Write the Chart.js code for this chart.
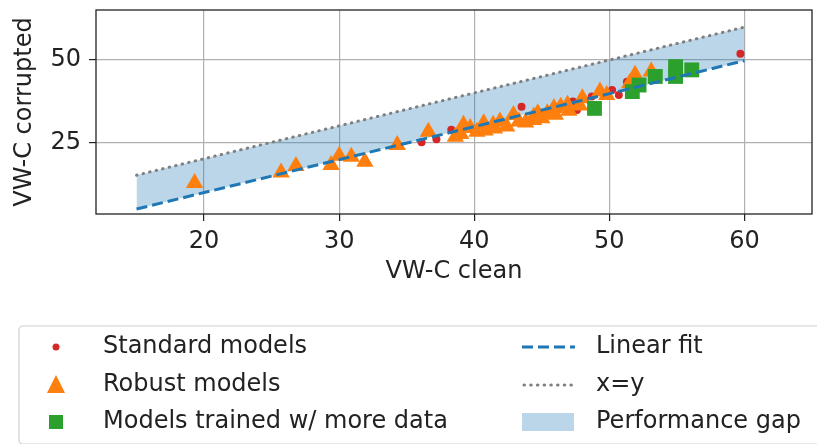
<!DOCTYPE html>
<html>
<head>
<meta charset="utf-8">
<script src="https://cdn.jsdelivr.net/npm/chart.js@4"></script>
<style>
  body { margin: 0; background: #fff; }
  canvas { display: block; }
</style>
</head>
<body>
<canvas id="gapChart" width="817" height="444"></canvas>
<script>
// Standard models
const stdX = [36.1, 37.2, 38.3, 43.5, 47.3, 47.6, 48.7, 50.2, 50.7, 51.3, 59.7];
const stdY = [25.0, 25.9, 28.8, 35.8, 37.4, 34.8, 38.9, 40.9, 39.4, 43.4, 51.9];

// Robust models
const robustX = [19.3, 25.7, 26.8, 29.4, 30.0, 30.9, 31.9, 34.3, 36.6, 38.6, 39.0, 39.2, 39.7, 40.2,
  40.7, 40.8, 41.4, 41.5, 41.9, 42.4, 42.9, 43.3, 43.8, 44.4, 44.4, 44.7, 45.0, 45.4, 45.9, 46.0,
  46.4, 46.9, 47.0, 47.8, 48.0, 49.3, 49.8, 51.5, 51.9, 53.1];
const robustY = [12.6, 15.8, 17.8, 18.1, 20.9, 20.6, 19.1, 24.2, 28.2, 26.7, 27.5, 30.3, 29.3, 28.2,
  30.8, 28.6, 30.3, 29.2, 31.3, 29.8, 33.3, 31.3, 31.0, 32.8, 31.8, 33.8, 32.3, 33.8, 35.4, 33.4,
  35.8, 36.4, 34.6, 36.2, 38.4, 40.4, 39.4, 42.9, 45.5, 46.5];

// Models trained with more data
const moreX = [48.9, 51.7, 52.2, 53.4, 54.9, 54.9, 56.1];
const moreY = [35.3, 40.4, 42.4, 45.0, 48.0, 45.0, 47.0];

// Linear fit and x=y reference
const fitX = [15, 60];
const fitY = [4.7, 49.8];
const diagX = [15, 60];
const diagY = [15, 60];

const xTicks = [20, 30, 40, 50, 60];
const yTicks = [25, 50];

const legendLeft = ["Standard models", "Robust models", "Models trained w/ more data"];
const legendRight = ["Linear fit", "x=y", "Performance gap"];

const FONT = "'DejaVu Sans', sans-serif";
const pts = (xs, ys) => xs.map((x, i) => ({ x: x, y: ys[i] }));

const RED = "#d62728", ORANGE = "#ff7f0e", GREEN = "#2ca02c", BLUE = "#1f77b4", GRAY = "#7f7f7f";
const GAP = "rgba(31, 119, 180, 0.3)";
const FIT_DASH = [11, 5];
const DOT_DASH = [0.5, 6.2];

// frame around plot + legend box underneath
const framePlugin = {
  id: "frame",
  afterDraw(chart) {
    const ctx = chart.ctx;
    const a = chart.chartArea;
    ctx.save();
    ctx.strokeStyle = "#222";
    ctx.lineWidth = 1.3;
    ctx.strokeRect(a.left, a.top, a.right - a.left, a.bottom - a.top);

    // legend box
    ctx.strokeStyle = "#d0d0d0";
    ctx.lineWidth = 1.2;
    ctx.beginPath();
    ctx.roundRect(19, 326, 830, 118, 4);
    ctx.stroke();

    const rows = [347, 385, 422];
    ctx.font = "24px " + FONT;
    ctx.fillStyle = "#222";
    ctx.textBaseline = "middle";
    legendLeft.forEach((t, i) => ctx.fillText(t, 103, rows[i]));
    legendRight.forEach((t, i) => ctx.fillText(t, 596, rows[i]));

    // markers
    ctx.fillStyle = RED;
    ctx.beginPath();
    ctx.arc(56, rows[0], 3.5, 0, Math.PI * 2);
    ctx.fill();

    ctx.fillStyle = ORANGE;
    ctx.beginPath();
    ctx.moveTo(56, rows[1] - 10);
    ctx.lineTo(47, rows[1] + 8);
    ctx.lineTo(65, rows[1] + 8);
    ctx.closePath();
    ctx.fill();

    ctx.fillStyle = GREEN;
    ctx.fillRect(49, rows[2] - 7, 14, 14);

    // line samples
    ctx.lineWidth = 3;
    ctx.strokeStyle = BLUE;
    ctx.setLineDash(FIT_DASH);
    ctx.beginPath();
    ctx.moveTo(522, rows[0]);
    ctx.lineTo(575, rows[0]);
    ctx.stroke();

    ctx.strokeStyle = GRAY;
    ctx.lineCap = "round";
    ctx.setLineDash(DOT_DASH);
    ctx.beginPath();
    ctx.moveTo(524, rows[1]);
    ctx.lineTo(575, rows[1]);
    ctx.stroke();
    ctx.setLineDash([]);

    ctx.fillStyle = GAP;
    ctx.fillRect(522, rows[2] - 9, 52, 18);
    ctx.restore();
  }
};

// scales shouldn't push the plot area in for their edge labels
const noPad = s => {
  s.paddingTop = 0; s.paddingBottom = 0; s.paddingLeft = 0; s.paddingRight = 0;
  s.getPadding = () => ({ left: 0, top: 0, right: 0, bottom: 0 });
};

new Chart(document.getElementById("gapChart"), {
  type: "scatter",
  data: {
    datasets: [
      {
        type: "line",
        label: "Linear fit",
        data: pts(fitX, fitY),
        borderColor: BLUE,
        borderWidth: 3,
        borderDash: FIT_DASH,
        pointRadius: 0,
        fill: "+1",
        backgroundColor: GAP,
        order: 0
      },
      {
        type: "line",
        label: "x=y",
        data: pts(diagX, diagY),
        borderColor: GRAY,
        borderWidth: 3,
        borderDash: DOT_DASH,
        borderCapStyle: "round",
        pointRadius: 0,
        fill: false,
        order: 0
      },
      {
        label: "Standard models",
        data: pts(stdX, stdY),
        pointStyle: "circle",
        pointRadius: 4,
        backgroundColor: RED,
        borderColor: RED,
        borderWidth: 0,
        order: 3
      },
      {
        label: "Robust models",
        data: pts(robustX, robustY),
        pointStyle: "triangle",
        pointRadius: 10,
        backgroundColor: ORANGE,
        borderColor: ORANGE,
        borderWidth: 0,
        order: 2
      },
      {
        label: "Models trained w/ more data",
        data: pts(moreX, moreY),
        pointStyle: "rect",
        pointRadius: 10.5,
        backgroundColor: GREEN,
        borderColor: GREEN,
        borderWidth: 0,
        order: 1
      }
    ]
  },
  options: {
    responsive: false,
    animation: false,
    layout: { autoPadding: false, padding: { left: 0, top: 10, right: 5, bottom: 150 } },
    plugins: {
      legend: { display: false },
      tooltip: { enabled: false },
      filler: { drawTime: "beforeDatasetsDraw" }
    },
    scales: {
      x: {
        type: "linear",
        min: 12.0,
        max: 65.0,
        afterBuildTicks: s => { s.ticks = xTicks.map(v => ({ value: v })); },
        afterFit: s => { s.height = 80; noPad(s); },
        grid: { color: "#b0b0b0", lineWidth: 1.2, tickColor: "#222", tickLength: 7 },
        border: { display: false },
        ticks: { color: "#222", font: { family: FONT, size: 24 }, padding: 6, maxRotation: 0 },
        title: {
          display: true,
          text: "VW-C clean",
          color: "#222",
          font: { family: FONT, size: 24 },
          padding: { top: 0, bottom: 8 }
        }
      },
      y: {
        type: "linear",
        min: 3.2,
        max: 65.2,
        afterBuildTicks: s => { s.ticks = yTicks.map(v => ({ value: v })); },
        afterFit: s => { s.width = 96; noPad(s); },
        grid: { color: "#b0b0b0", lineWidth: 1.2, tickColor: "#222", tickLength: 7 },
        border: { display: false },
        ticks: { color: "#222", font: { family: FONT, size: 24 }, padding: 8 },
        title: {
          display: true,
          text: "VW-C corrupted",
          color: "#222",
          font: { family: FONT, size: 24 },
          padding: { top: 10, bottom: 0 }
        }
      }
    }
  },
  plugins: [framePlugin]
});
</script>
</body>
</html>
